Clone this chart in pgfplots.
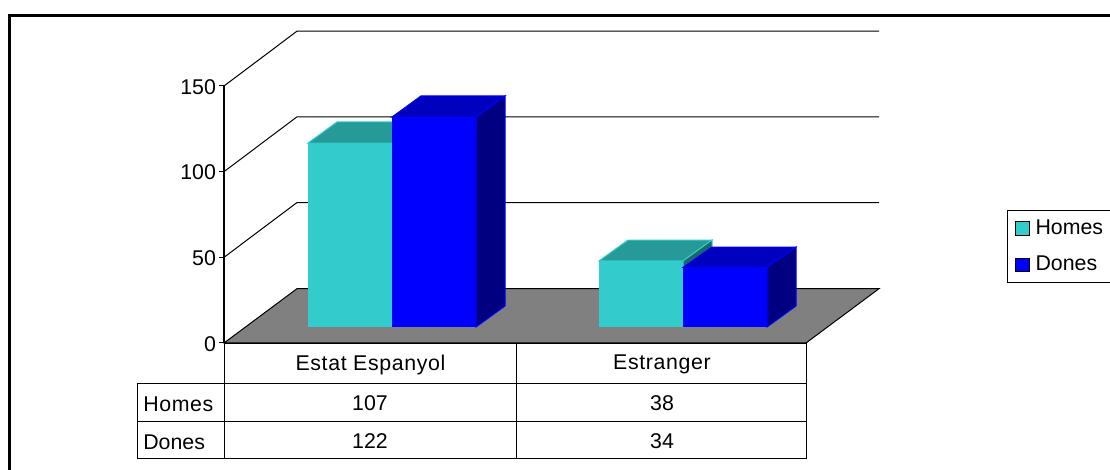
\documentclass[border=0pt]{standalone}
\usepackage{fontspec}
\setmainfont{Liberation Sans}
\usepackage{pgfplots}
\pgfplotsset{compat=1.18}
\definecolor{cyanf}{HTML}{33CCCC}
\definecolor{cyant}{HTML}{269999}
\definecolor{cyans}{HTML}{1A6666}
\definecolor{bluef}{HTML}{0000FF}
\definecolor{bluet}{HTML}{0000BF}
\definecolor{blues}{HTML}{000080}
\definecolor{floorc}{HTML}{808080}
\newcommand{\lbl}{\fontsize{16}{18}\selectfont}
\newcommand{\wide}[1]{{\addfontfeature{LetterSpace=3}#1}}

\begin{document}
% 1 px of the reference = 0.75pt; x is in px, y in chart values (1 unit = 1.7133 px)
\begin{tikzpicture}[font=\lbl]
\begin{axis}[
  at={(168pt,95.25pt)},anchor=south west,
  scale only axis,width=436.5pt,height=192.75pt,
  xmin=224,xmax=806,ymin=0,ymax=150,
  clip=false,
  axis y line*=left,axis x line*=bottom,
  axis line style={black,line width=1pt,-},
  ytick={0,50,100,150},
  xtick={370.5,662},xticklabels={\wide{Estat Espanyol},\wide{Estranger}},
  tick align=outside,major tick length=4pt,
  xtick style={draw=none},
  ytick style={black,line width=.75pt},
  tick label style={font=\lbl},
  xticklabel style={yshift=-1.6pt},
  yticklabel style={xshift=1.5pt,yshift=-.6pt},
  /pgf/number format/assume math mode=true,
  legend cell align=left,
  legend image code/.code={\fill[#1] (0pt,-4.9pt) rectangle (10.5pt,4.9pt);},
  legend style={at={(axis cs:1007,77.6)},anchor=north west,draw=black,line width=.75pt,
    font=\lbl,inner xsep=5.5pt,inner ysep=5.2pt,row sep=10.55pt,
    /tikz/every odd column/.append style={column sep=2.3pt}},
]
\addlegendimage{fill=cyanf}\addlegendentry{Homes\hspace{12pt}}
\addlegendimage{fill=bluef}\addlegendentry{Dones}

% outer frame
\addplot[forget plot,black,line width=2pt] coordinates {(9.5,-75) (9.5,191) (1111,191)};
% walls and gridlines
\addplot[forget plot,black,line width=.75pt] coordinates {(224,150) (297,182) (879,182)};
\addplot[forget plot,black,line width=.75pt] coordinates {(224,100) (297,132) (879,132)};
\addplot[forget plot,black,line width=.75pt] coordinates {(224,50) (297,82) (879,82)};
% floor
\addplot[forget plot,fill=floorc,draw=black,line width=.75pt] coordinates {(224,0) (297,31.7) (879,31.7) (806,0)} -- cycle;

% Homes, Estat Espanyol = 107
\addplot[forget plot,fill=cyanf,draw=cyanf,line width=.75pt] coordinates {(308,9.34) (392,9.34) (392,116.7) (308,116.7)} -- cycle;
\addplot[forget plot,fill=cyant,draw=cyanf,line width=.75pt] coordinates {(308,116.7) (337,129) (421,129) (392,116.7)} -- cycle;
% Dones, Estat Espanyol = 122
\addplot[forget plot,fill=bluef,draw=bluef,line width=.75pt] coordinates {(392,9.34) (476,9.34) (476,131.9) (392,131.9)} -- cycle;
\addplot[forget plot,fill=bluet,draw=bluef,line width=.75pt] coordinates {(392,131.9) (421,144.2) (505,144.2) (476,131.9)} -- cycle;
\addplot[forget plot,fill=blues,draw=bluef,line width=.75pt] coordinates {(476,9.34) (505,21.6) (505,144.2) (476,131.9)} -- cycle;
% Homes, Estranger = 38
\addplot[forget plot,fill=cyanf,draw=cyanf,line width=.75pt] coordinates {(599,9.34) (683,9.34) (683,47.9) (599,47.9)} -- cycle;
\addplot[forget plot,fill=cyant,draw=cyanf,line width=.75pt] coordinates {(599,47.9) (628,60.1) (712,60.1) (683,47.9)} -- cycle;
\addplot[forget plot,fill=cyans,draw=cyanf,line width=.75pt] coordinates {(683,9.34) (712,21.6) (712,60.1) (683,47.9)} -- cycle;
% Dones, Estranger = 34
\addplot[forget plot,fill=bluef,draw=bluef,line width=.75pt] coordinates {(683,9.34) (767,9.34) (767,44.1) (683,44.1)} -- cycle;
\addplot[forget plot,fill=bluet,draw=bluef,line width=.75pt] coordinates {(683,44.1) (712,56) (796,56) (767,44.1)} -- cycle;
\addplot[forget plot,fill=blues,draw=bluef,line width=.75pt] coordinates {(767,9.34) (796,21.6) (796,56) (767,44.1)} -- cycle;

% data table under the chart
\addplot[forget plot,black,line width=.75pt] coordinates {(224,0) (224,-67.7)};
\addplot[forget plot,black,line width=.75pt] coordinates {(516,0) (516,-67.7)};
\addplot[forget plot,black,line width=.75pt] coordinates {(806,0) (806,-67.7)};
\addplot[forget plot,black,line width=.75pt] coordinates {(137,-23.35) (137,-67.7)};
\addplot[forget plot,black,line width=.75pt] coordinates {(137,-23.35) (806,-23.35)};
\addplot[forget plot,black,line width=.75pt] coordinates {(137,-46.1) (806,-46.1)};
\addplot[forget plot,black,line width=.75pt] coordinates {(137,-67.7) (806,-67.7)};
\node[anchor=west,inner xsep=0pt] at (axis cs:143,-35.5) {\wide{Homes}};
\node[anchor=west,inner xsep=0pt] at (axis cs:143,-58) {Dones};
\node at (axis cs:370,-35) {107};
\node at (axis cs:662,-35) {38};
\node at (axis cs:370,-57.5) {122};
\node at (axis cs:662,-57.5) {34};
\end{axis}
\pgfresetboundingbox
\path[use as bounding box] (0,0) rectangle (832.5pt,352.5pt);
\end{tikzpicture}
\end{document}
